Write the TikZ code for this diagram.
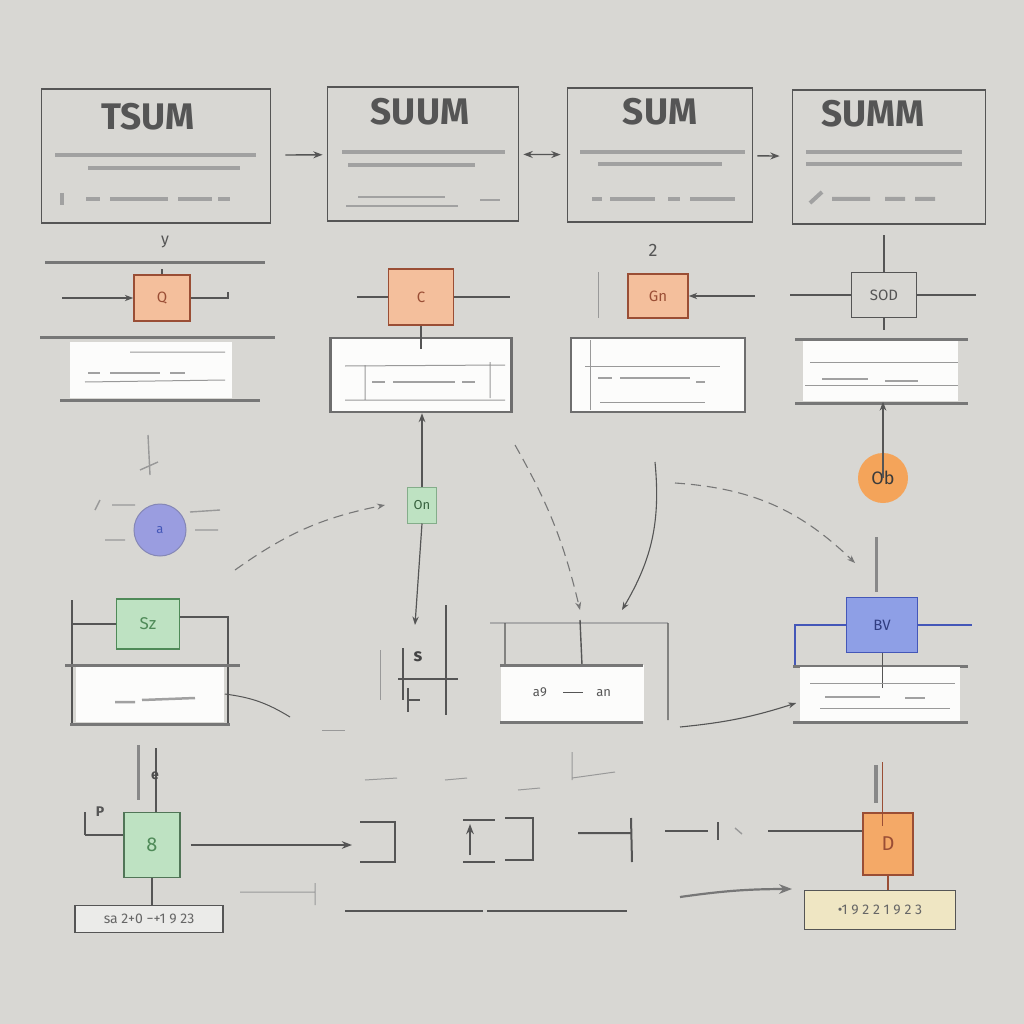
\documentclass[tikz,border=0pt]{standalone}
\usepackage{fontspec}
\setmainfont{Fira Sans}
\usetikzlibrary{arrows.meta}
\definecolor{paper}{HTML}{D8D7D3}
\definecolor{ink}{HTML}{555555}
\definecolor{peach}{HTML}{F4BF9C}
\definecolor{rust}{HTML}{9A4E35}
\definecolor{mint}{HTML}{BEE2C2}
\definecolor{leaf}{HTML}{4F8A58}
\definecolor{lav}{HTML}{9A9DE0}
\definecolor{cobalt}{HTML}{8E9FE6}
\definecolor{navy}{HTML}{4457B8}
\definecolor{apricot}{HTML}{F4A45A}
\definecolor{straw}{HTML}{EFE6C3}
\begin{document}
\begin{tikzpicture}[x=1pt, y=-1pt, >=Stealth, line width=1.6pt, draw=ink,
  titlebox/.style={draw=ink, line width=1.8pt, minimum width=#1, minimum height=134, inner sep=0pt},
  title/.style={text=ink, font=\fontsize{37}{37}\selectfont\bfseries},
  scrib/.style={ink!55, line width=4pt},
  gate/.style={draw=rust, fill=peach, line width=1.6pt, text=rust, font=\fontsize{15}{15}\selectfont},
  panel/.style={fill=white!92!paper, draw=none, inner sep=0pt},
  shelf/.style={ink!80, line width=3pt},
  faint/.style={ink!60, line width=1pt},
  flow/.style={ink!80, line width=1.1pt, dashed, dash pattern=on 10pt off 6pt},
  tag/.style={draw=ink, line width=1.6pt, font=\fontsize{14}{14}\selectfont, text=ink!90, inner sep=0pt}]
  % ==================== background ====================
  \fill[paper] (0,0) rectangle (1024,1024);

  % ==================== 1. title boxes ====================
  \node[titlebox=229] (tsum) at (156,156) {};
  \node[titlebox=191] (suum) at (423,154) {};
  \node[titlebox=185] (sum) at (660,155) {};
  \node[titlebox=193] (summ) at (889,157) {};
  \node[title] at (148,117) {TSUM};
  \node[title] at (420,112) {SUUM};
  \node[title] at (660,112) {SUM};
  \node[title] at (873,114) {SUMM};
  % blurred text lines
  \draw[scrib] (55,155) -- (256,155) (88,168) -- (240,168);
  \draw[scrib] (342,152) -- (505,152) (348,165) -- (475,165);
  \draw[scrib] (580,152) -- (745,152) (598,164) -- (722,164);
  \draw[scrib] (806,152) -- (962,152) (806,164) -- (962,164);
  % formula rows
  \draw[scrib] (62,193) -- (62,205) (86,199) -- (100,199) (110,199) -- (168,199) (178,199) -- (212,199) (218,199) -- (230,199);
  \draw[scrib, line width=2pt] (346,206) -- (458,206) (358,197) -- (445,197) (480,200) -- (500,200);
  \draw[scrib] (592,199) -- (602,199) (610,199) -- (655,199) (668,199) -- (680,199) (690,199) -- (735,199);
  \draw[scrib] (810,203) -- (822,192) (832,199) -- (870,199) (885,199) -- (905,199) (915,199) -- (935,199);
  % arrows between title boxes
  \draw[->, line width=1.4pt, shorten <=14pt, shorten >=4pt] (tsum) -- (suum);
  \draw[<->, line width=1.4pt, shorten <=4pt, shorten >=6pt] (suum) -- (sum);
  \draw[->, line width=1.4pt, shorten <=4pt, shorten >=12pt] (sum) -- (summ);

  % ==================== 2. second row ====================
  % column A
  \draw[shelf] (45,262) -- (265,262) (40,337) -- (275,337) (60,400) -- (260,400);
  \node[gate, minimum width=56, minimum height=46] (gateA) at (162,298) {Q};
  \node[text=ink, font=\fontsize{16}{16}\selectfont] (markA) at (165,242) {y};
  \coordinate (inA) at (62,298);
  \coordinate (outA) at (228,298);
  \draw[->, line width=1.2pt] (inA) -- (gateA.west);
  \draw[line width=1.2pt] (gateA.east) -- (outA) -- ++(0,-6);
  \draw[line width=1.2pt] (gateA.north) -- ++(0,-5);
  \node[panel, minimum width=162, minimum height=56] (panelA) at (151,370) {};
  \draw[faint] (85,382) -- (225,380) (130,352) -- (225,352);
  \draw[scrib, line width=2.5pt] (88,373) -- (100,373) (110,373) -- (160,373) (170,373) -- (185,373);
  % column B
  \node[gate, minimum width=65, minimum height=56] (gateB) at (421,297) {C};
  \coordinate (inB) at (357,297);
  \coordinate (outB) at (510,297);
  \draw[line width=1.2pt] (inB) -- (gateB.west) (gateB.east) -- (outB);
  \node[panel, draw=ink!85, line width=2.6pt, minimum width=181, minimum height=74] (panelB) at (421,375) {};
  \draw[line width=1.2pt] (gateB.south) -- (panelB.north) -- ++(0,12);
  \draw[faint] (345,366) -- (505,365) (345,400) -- (505,400) (365,365) -- (365,400) (490,362) -- (490,398);
  \draw[scrib, line width=2.5pt] (372,382) -- (385,382) (393,382) -- (455,382) (462,382) -- (475,382);
  % column C
  \node[gate, minimum width=60, minimum height=44] (gateC) at (658,296) {Gn};
  \node[text=ink, font=\fontsize{18}{18}\selectfont] (markC) at (653,250) {2};
  \coordinate (inC) at (755,296);
  \draw[->, line width=1.2pt] (inC) -- (gateC.east);
  \draw[faint] (598,272) -- (598,318);
  \node[panel, draw=ink!85, line width=2.6pt, minimum width=174, minimum height=74] (panelC) at (658,375) {};
  \draw[faint] (590,340) -- (590,410) (585,366) -- (720,366) (600,402) -- (705,402);
  \draw[scrib, line width=2.5pt] (598,378) -- (612,378) (620,378) -- (690,378) (696,382) -- (705,382);
  % column D
  \node[draw=ink, line width=1.8pt, minimum width=65, minimum height=45, text=ink,
    font=\fontsize{15}{15}\selectfont] (gateD) at (884,295) {SOD};
  \coordinate (inD) at (790,295);
  \coordinate (outD) at (976,295);
  \coordinate (topD) at (884,235);
  \draw[line width=1.6pt] (inD) -- (gateD.west) (gateD.east) -- (outD) (topD) -- (gateD.north);
  \draw[line width=1.6pt] (gateD.south) -- ++(0,12);
  \draw[shelf] (795,339) -- (968,339) (795,403) -- (968,403);
  \node[panel, minimum width=155, minimum height=60] (panelD) at (880,371) {};
  \draw[faint] (810,362) -- (958,362) (805,385) -- (958,385);
  \draw[scrib, line width=2.5pt] (822,379) -- (868,379) (885,381) -- (918,381);

  % ==================== 3. third row ====================
  \node[draw=lav!70!ink, fill=lav, circle, minimum size=52, line width=1pt,
    text=navy, font=\fontsize{13}{13}\selectfont] (orb) at (160,530) {a};
  \draw[faint, line width=1.4pt] (148,435) -- (150,475) (140,470) -- (158,462) (95,510) -- (100,500)
    (112,505) -- (135,505) (105,540) -- (125,540) (190,512) -- (220,510) (195,530) -- (218,530);
  \node[draw=leaf!70, fill=mint, line width=1pt, minimum width=29, minimum height=36, text=leaf!70!black,
    font=\fontsize{13}{13}\selectfont] (onbox) at (422,505) {On};
  \coordinate (dropB) at (415,625);
  \coordinate (dashA) at (235,570);
  \draw[->, line width=1.3pt] (onbox.north) -- (onbox.north |- panelB.south);
  \draw[->, line width=1.2pt] (onbox.south) -- (dropB);
  \draw[flow, ->] (dashA) to[bend left=12] ([xshift=-22pt]onbox.west);
  \node[circle, fill=apricot, minimum size=50, text=ink!70!black,
    font=\fontsize{18}{18}\selectfont] (obnode) at (883,478) {Ob};
  \draw[->, line width=1.3pt] (obnode.center) -- (obnode.center |- panelD.south);
  % middle-right group
  \coordinate (dashB) at (515,445);
  \coordinate (dashC) at (655,462);
  \coordinate (dashD) at (675,483);
  \coordinate (hitB) at (580,610);
  \coordinate (hitC) at (622,610);
  \coordinate (hitD) at (855,563);
  \draw[flow, ->] (dashB) to[bend left=8] (hitB);
  \draw[->, line width=1.1pt] (dashC) to[bend left=18] (hitC);
  \draw[flow, ->] (dashD) to[bend left=20] (hitD);
  \draw[ink!50, line width=2.2pt] (490,623) -- (668,623);
  \draw[line width=1.4pt] (505,623) -- (505,720) (668,623) -- (668,720) (580,620) -- (582,665);
  \node[panel, minimum width=143, minimum height=56] (panelE) at (572,693) {};
  \draw[shelf] (500,665) -- (643,665) (500,722) -- (643,722);
  \node[text=ink, font=\fontsize{13}{13}\selectfont] at (572,692) {a9 \quad\rule[3pt]{20pt}{1.2pt}\quad an};
  % left group
  \draw[line width=1.6pt] (72,600) -- (72,725);
  \node[draw=leaf, fill=mint, line width=1.4pt, minimum width=63, minimum height=50, text=leaf,
    font=\fontsize{17}{17}\selectfont] (szbox) at (148,624) {Sz};
  \draw[line width=1.6pt] (72,624) -- (szbox.west) (szbox.east |- 0,617) -- (228,617) -- (228,725);
  \draw[shelf] (65,665) -- (240,665) (70,724) -- (230,724);
  \node[panel, minimum width=148, minimum height=55] (panelF) at (150,694) {};
  \draw[scrib, line width=2.5pt] (115,702) -- (135,702) (142,700) -- (195,698);
  \coordinate (tailF) at (290,717);
  \draw[line width=1pt] (panelF.east) to[bend left=12] (tailF);
  % middle group
  \node[text=ink!80!black, font=\fontsize{18}{18}\selectfont\bfseries] (bolt) at (418,657) {s};
  \draw[line width=1.4pt] (403,648) -- (403,700) (398,679) -- (458,679) (446,605) -- (446,715)
    (408,688) -- (408,712) (408,700) -- (420,700);
  \draw[faint] (380,650) -- (380,700) (322,730) -- (345,730);
  % right group
  \node[draw=navy, fill=cobalt, line width=1.8pt, minimum width=71, minimum height=55, text=navy!70!black,
    font=\fontsize{15}{15}\selectfont] (bvbox) at (882,625) {BV};
  \draw[ink!70, line width=3pt] (876,537) -- (876,592);
  \draw[navy, line width=1.6pt] (795,665) -- (795,625) -- (bvbox.west) (bvbox.east) -- (972,625);
  \draw[shelf] (793,666) -- (968,666) (793,722) -- (968,722);
  \node[panel, minimum width=160, minimum height=54] (panelG) at (880,694) {};
  \draw[line width=1pt] (bvbox.south) -- (bvbox.south |- 0,688);
  \draw[faint] (810,683) -- (955,683) (820,708) -- (950,708);
  \draw[scrib, line width=2.5pt] (825,697) -- (880,697) (905,698) -- (925,698);
  \coordinate (tailG) at (680,727);
  \draw[->, line width=1.1pt] (tailG) to[bend right=6] ([xshift=-3pt]panelG.west |- 0,703);

  % ==================== 4. bottom row ====================
  \node[draw=leaf!60!ink, fill=mint, line width=1.6pt, minimum width=56, minimum height=65, text=leaf,
    font=\fontsize{20}{20}\selectfont] (eightbox) at (152,845) {8};
  \node[tag, minimum width=148, minimum height=27, fill=paper!50!white] (tagA) at (149,919) {sa 2+0 −+1 9 23};
  \draw[line width=1.6pt] (eightbox.south) -- (eightbox.south |- tagA.north);
  \draw[ink!70, line width=3pt] (138,745) -- (138,800);
  \draw[line width=1.4pt] (156,748) -- (156,812);
  \node[text=ink!90!black, font=\fontsize{14}{14}\selectfont\bfseries] (curl) at (155,776) {e};
  \node[text=ink, font=\fontsize{14}{14}\selectfont\bfseries] (hook) at (100,812) {P};
  \draw[line width=1.4pt] (85,835) -- (eightbox.west |- 0,835) (85,812) -- (85,835);
  \coordinate (bracketA) at (352,845);
  \draw[->, line width=1.6pt] ([xshift=10pt]eightbox.east) -- (bracketA);
  \draw[line width=2pt] (360,822) -- (395,822) -- (395,862) -- (360,862);
  \draw[line width=2pt] (463,820) -- (495,820) (463,862) -- (495,862) (505,818) -- (533,818) -- (533,860) -- (505,860);
  \draw[->, line width=1.6pt] (470,855) -- (470,824);
  \draw[line width=2pt] (578,833) -- (632,833) (631,818) -- (632,862);
  \draw[line width=2pt] (345,911) -- (483,911) (487,911) -- (627,911);
  \draw[faint] (240,892) -- (315,892) (315,883) -- (315,905) (365,780) -- (397,778) (445,780) -- (467,778)
    (572,752) -- (572,780) (572,778) -- (615,772) (518,790) -- (540,788);
  % right part
  \node[draw=rust, fill=apricot!80!peach, line width=1.6pt, minimum width=50, minimum height=62, text=rust,
    font=\fontsize{20}{20}\selectfont] (dbox) at (888,844) {D};
  \node[tag, fill=straw, minimum width=151, minimum height=39] (tagD) at (880,910) {•1 9 2 2 1 9 2 3};
  \draw[line width=1.4pt, rust] (dbox.south) -- (dbox.south |- tagD.north);
  \draw[ink!70, line width=3.2pt] (876,765) -- (876,803);
  \draw[rust, line width=1pt] (882,762) -- (882,826);
  \coordinate (feedD) at (768,831);
  \draw[line width=1.6pt] (feedD) -- (dbox.west |- feedD);
  \draw[line width=1.6pt] (665,831) -- (708,831) (718,822) -- (718,840);
  \draw[faint, line width=1.4pt] (735,828) -- (742,834);
  \coordinate (tailD) at (680,897);
  \draw[->, line width=2.2pt, ink!80] (tailD) to[bend left=4] (792,889);
\end{tikzpicture}
\end{document}
